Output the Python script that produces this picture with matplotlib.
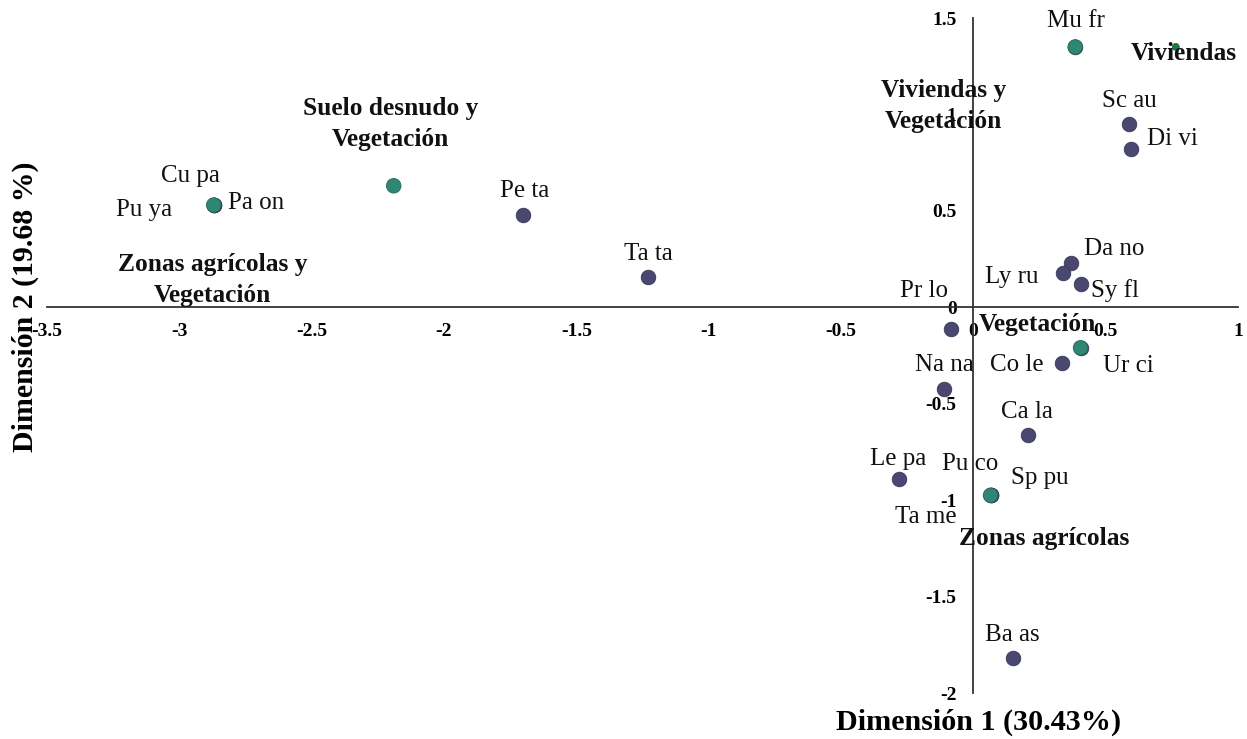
import matplotlib
matplotlib.use("Agg")
import matplotlib.pyplot as plt
from matplotlib.ticker import FuncFormatter, MultipleLocator

plt.rcParams["font.family"] = ["Liberation Serif", "DejaVu Serif"]
plt.rcParams["axes.unicode_minus"] = False

# species coordinates (Dimension 1, Dimension 2)
species = ["Mu fr", "Sc au", "Di vi", "Cu pa", "Pu ya", "Pa on", "Pe ta", "Ta ta",
           "Da no", "Ly ru", "Sy fl", "Pr lo", "Ur ci", "Co le", "Na na", "Ca la",
           "Le pa", "Pu co", "Sp pu", "Ta me", "Ba as"]
species_x = [0.385, 0.59, 0.595, -2.87, -2.87, -2.87, -1.70, -1.23,
             0.37, 0.34, 0.405, -0.085, 0.405, 0.335, -0.11, 0.205,
             -0.28, 0.065, 0.065, 0.065, 0.148]
species_y = [1.35, 0.95, 0.82, 0.53, 0.53, 0.53, 0.48, 0.155,
             0.23, 0.18, 0.12, -0.11, -0.21, -0.29, -0.425, -0.66,
             -0.89, -0.975, -0.975, -0.975, -1.82]

# land cover categories
categories = ["Viviendas", "Viviendas y\nVegetación", "Suelo desnudo y\nVegetación",
              "Zonas agrícolas y\nVegetación", "Vegetación", "Zonas agrícolas"]
cat_x = [0.765, 0.385, -2.19, -2.87, 0.405, 0.065]
cat_y = [1.35, 1.35, 0.63, 0.53, -0.21, -0.975]

# label offsets in pixels (dx, dy, ha)
sp_off = {
    "Mu fr": (1, 26, "center"), "Sc au": (0, 23, "center"), "Di vi": (16, 10, "left"),
    "Cu pa": (-23, 29, "center"), "Pu ya": (-70, -5, "center"), "Pa on": (14, 2, "left"),
    "Pe ta": (1, 24, "center"), "Ta ta": (1, 23, "center"), "Da no": (13, 14, "left"),
    "Ly ru": (-25, -4, "right"), "Sy fl": (10, -6, "left"), "Pr lo": (-27, 38, "center"),
    "Ur ci": (22, -18, "left"), "Co le": (-45, -2, "center"), "Na na": (0, 24, "center"),
    "Ca la": (-1, 23, "center"), "Le pa": (-1, 20, "center"), "Pu co": (-20, 31, "center"),
    "Sp pu": (49, 17, "center"), "Ta me": (-65, -22, "center"), "Ba as": (0, 23, "center"),
}
cat_off = [(-45, -7, "left"), (-132, -59, "center"), (-3, 62, "center"),
           (-1, -75, "center"), (-102, 23, "left"), (54, -43, "center")]
cat_size = [25, 110, 110, 110, 110, 110]
cat_color = ["#1f7a3c", "#2e8673", "#2e8673", "#2e8673", "#2e8673", "#2e8673"]

fig = plt.figure(figsize=(12.47, 7.39), dpi=100)
ax = fig.add_axes([47 / 1247, 1 - 693 / 739, (1238 - 47) / 1247, (693 - 18) / 739])

ax.scatter(species_x, species_y, s=110, color="#4a4870", edgecolor="#3a3858",
           linewidth=0.6, zorder=3)
ax.scatter(cat_x, cat_y, s=cat_size, color=cat_color, edgecolor="#24685a",
           linewidth=0.6, zorder=4)

for name, x, y in zip(species, species_x, species_y):
    dx, dy, ha = sp_off[name]
    ax.annotate(name, (x, y), xytext=(dx, dy), textcoords="offset pixels",
                ha=ha, va="center", fontsize=18, color="#111111", zorder=5)

for name, x, y, (dx, dy, ha) in zip(categories, cat_x, cat_y, cat_off):
    ax.annotate(name, (x, y), xytext=(dx, dy), textcoords="offset pixels",
                ha=ha, va="center", fontsize=18.3, fontweight="bold",
                color="#111111", linespacing=1.45, multialignment="center", zorder=6)

ax.set_xlim(-3.5, 1)
ax.set_ylim(-2, 1.5)
for side in ["top", "right"]:
    ax.spines[side].set_visible(False)
ax.spines["left"].set_position(("data", 0))
ax.spines["bottom"].set_position(("data", 0))
for side in ["left", "bottom"]:
    ax.spines[side].set_color("#333333")
    ax.spines[side].set_linewidth(1.3)

ax.xaxis.set_major_locator(MultipleLocator(0.5))
ax.yaxis.set_major_locator(MultipleLocator(0.5))
fmt = FuncFormatter(lambda v, p: "%g" % round(v, 2))
ax.xaxis.set_major_formatter(fmt)
ax.yaxis.set_major_formatter(fmt)
ax.tick_params(axis="x", length=0, pad=11, labelsize=14)
ax.tick_params(axis="y", length=0, pad=12, labelsize=14)
for lab in ax.get_xticklabels() + ax.get_yticklabels():
    lab.set_fontweight("bold")
ax.patch.set_alpha(0)

fig.text(979 / 1247, 1 - 722 / 739, "Dimensión 1 (30.43%)", ha="center", va="center",
         fontsize=21.7, fontweight="bold")
fig.text(25 / 1247, 1 - 307 / 739, "Dimensión 2 (19.68 %)", ha="center", va="center",
         rotation=90, fontsize=21.5, fontweight="bold")

fig.savefig("out.png", dpi=100)
